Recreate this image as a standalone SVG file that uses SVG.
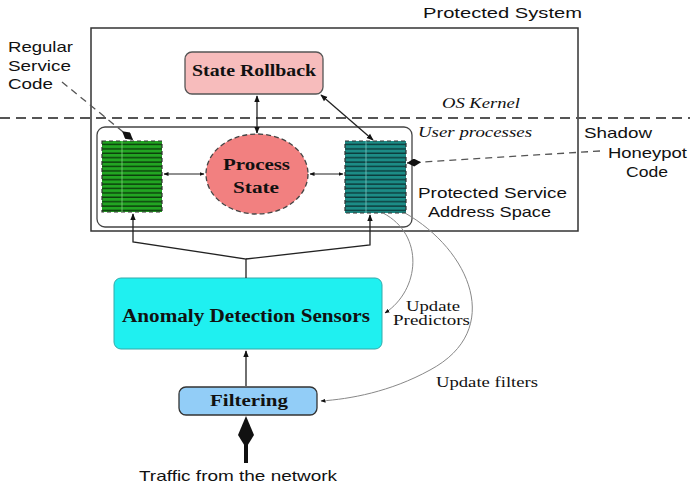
<svg xmlns="http://www.w3.org/2000/svg" width="690" height="486" viewBox="0 0 690 486">
<defs>
<style>
.sans{font-family:"Liberation Sans",Arial,sans-serif;fill:#111}
.serif{font-family:"Liberation Serif","Times New Roman",serif;fill:#111}
.bold{font-weight:bold}
.ital{font-style:italic}
.ln{stroke:#222;stroke-width:1.3;fill:none}
.thin{stroke:#888;stroke-width:1;fill:none}
.lead{stroke:#555;stroke-width:1.3;fill:none;stroke-dasharray:7 5}
</style>
<pattern id="pg" width="10" height="4.4" patternUnits="userSpaceOnUse">
<rect width="10" height="4.4" fill="#22a522"/>
<rect y="3" width="10" height="1.4" fill="#0b3d0b"/>
</pattern>
<pattern id="pt" width="10" height="4.4" patternUnits="userSpaceOnUse">
<rect width="10" height="4.4" fill="#1c8c86"/>
<rect y="3" width="10" height="1.4" fill="#0c3b3b"/>
</pattern>
<marker id="ah" viewBox="0 0 10 10" refX="9" refY="5" markerWidth="7" markerHeight="7" orient="auto-start-reverse" markerUnits="userSpaceOnUse">
<path d="M0,1 L10,5 L0,9 z" fill="#111"/>
</marker>
<marker id="ahs" viewBox="0 0 10 10" refX="9" refY="5" markerWidth="5" markerHeight="5" orient="auto-start-reverse" markerUnits="userSpaceOnUse">
<path d="M0,1 L10,5 L0,9 z" fill="#111"/>
</marker>
<marker id="dm" viewBox="0 0 14 8" refX="14" refY="4" markerWidth="14" markerHeight="8" orient="auto" markerUnits="userSpaceOnUse">
<path d="M0,4 L7,0 L14,4 L7,8 z" fill="#111"/>
</marker>
</defs>
<rect width="690" height="486" fill="#fff"/>

<g id="protected-system">
<rect x="91" y="28" width="487" height="203" fill="none" stroke="#333" stroke-width="1.5"/>
<text class="sans" x="423" y="18" font-size="15" textLength="159" lengthAdjust="spacingAndGlyphs">Protected System</text>
</g>

<g id="kernel-line">
<line x1="0" y1="118" x2="690" y2="118" stroke="#555" stroke-width="2" stroke-dasharray="10 6"/>
<text class="serif ital" x="442" y="108" font-size="15" textLength="78" lengthAdjust="spacingAndGlyphs">OS Kernel</text>
</g>

<g id="user-processes">
<rect x="97" y="127" width="315" height="100" rx="8" fill="none" stroke="#444" stroke-width="1.3"/>
<text class="serif ital" x="418" y="137" font-size="15" textLength="114" lengthAdjust="spacingAndGlyphs">User processes</text>
<text class="sans" x="418" y="198" font-size="15" textLength="149" lengthAdjust="spacingAndGlyphs">Protected Service</text>
<text class="sans" x="428" y="217" font-size="15" textLength="123" lengthAdjust="spacingAndGlyphs">Address Space</text>
</g>

<g id="state-rollback">
<rect x="185" y="52" width="138" height="42" rx="7" fill="#f7bcbc" stroke="#555" stroke-width="1.3"/>
<text class="serif bold" x="192" y="76" font-size="16" textLength="124" lengthAdjust="spacingAndGlyphs">State Rollback</text>
</g>

<g id="regular-service-code">
<rect x="102" y="141" width="60" height="71" fill="url(#pg)" stroke="#333" stroke-width="1.2" stroke-dasharray="4 3"/>
<line x1="122" y1="141" x2="122" y2="212" stroke="#7fd07f" stroke-width="0.8"/>
<text class="sans" x="8" y="52" font-size="15" textLength="65" lengthAdjust="spacingAndGlyphs">Regular</text>
<text class="sans" x="8" y="71" font-size="15" textLength="63" lengthAdjust="spacingAndGlyphs">Service</text>
<text class="sans" x="8" y="89" font-size="15" textLength="45" lengthAdjust="spacingAndGlyphs">Code</text>
</g>

<g id="process-state">
<ellipse cx="257" cy="174" rx="51" ry="40" fill="#f28080" stroke="#444" stroke-width="1.3" stroke-dasharray="5 3"/>
<text class="serif bold" x="223" y="170" font-size="17" textLength="67" lengthAdjust="spacingAndGlyphs">Process</text>
<text class="serif bold" x="233" y="193" font-size="17" textLength="46" lengthAdjust="spacingAndGlyphs">State</text>
</g>

<g id="shadow-honeypot-code">
<rect x="345" y="141" width="61" height="72" fill="url(#pt)" stroke="#333" stroke-width="1.2" stroke-dasharray="4 3"/>
<line x1="366" y1="141" x2="366" y2="213" stroke="#7fc7c2" stroke-width="0.8"/>
<text class="sans" x="584" y="138" font-size="15" textLength="68" lengthAdjust="spacingAndGlyphs">Shadow</text>
<text class="sans" x="608" y="158" font-size="15" textLength="79" lengthAdjust="spacingAndGlyphs">Honeypot</text>
<text class="sans" x="626" y="177" font-size="15" textLength="42" lengthAdjust="spacingAndGlyphs">Code</text>
</g>

<g id="anomaly-detection-sensors">
<rect x="114" y="278" width="268" height="71" rx="7" fill="#1ff0f0" stroke="#3aa" stroke-width="1"/>
<text class="serif bold" x="122" y="322" font-size="18" textLength="248" lengthAdjust="spacingAndGlyphs">Anomaly Detection Sensors</text>
</g>

<g id="filtering">
<rect x="179" y="387" width="138" height="28" rx="7" fill="#92cdf7" stroke="#333" stroke-width="1.3"/>
<text class="serif bold" x="210" y="406" font-size="17" textLength="78" lengthAdjust="spacingAndGlyphs">Filtering</text>
</g>

<g id="labels">
<text class="serif" x="406" y="311" font-size="14" textLength="54" lengthAdjust="spacingAndGlyphs">Update</text>
<text class="serif" x="393" y="325" font-size="14" textLength="77" lengthAdjust="spacingAndGlyphs">Predictors</text>
<text class="serif" x="436" y="387" font-size="15" textLength="102" lengthAdjust="spacingAndGlyphs">Update filters</text>
<text class="sans" x="139" y="481" font-size="15" textLength="198" lengthAdjust="spacingAndGlyphs">Traffic from the network</text>
</g>

<g id="connectors">
<line class="ln" x1="257" y1="96" x2="257" y2="133" marker-start="url(#ah)" marker-end="url(#ah)"/>
<line class="ln" x1="321" y1="95" x2="373" y2="140" marker-start="url(#ah)" marker-end="url(#ah)"/>
<line x1="164" y1="174" x2="204" y2="174" stroke="#222" stroke-width="1" marker-start="url(#ahs)" marker-end="url(#ahs)"/>
<line x1="310" y1="174" x2="343" y2="174" stroke="#222" stroke-width="1" marker-start="url(#ahs)" marker-end="url(#ahs)"/>
<path class="ln" d="M246,278 L246,259 L133,242 L133,214" marker-end="url(#ah)"/>
<path class="ln" d="M246,259 L370,245 L370,215" marker-end="url(#ah)"/>
<line class="ln" x1="246" y1="386" x2="246" y2="351" marker-end="url(#ah)"/>
<line x1="246" y1="463" x2="246" y2="444" stroke="#111" stroke-width="4"/>
<path d="M246,416 L254,435 L246,448 L238,435 z" fill="#111"/>
<path class="thin" d="M383,213 C425,235 420,290 385,313" marker-end="url(#ahs)"/>
<path class="thin" d="M405,213 C470,250 505,330 430,370 C390,392 350,399 321,401" marker-end="url(#ahs)"/>
<path class="lead" d="M62,82 L133,140" marker-end="url(#dm)"/>
<path class="lead" d="M600,151 L407,163" marker-end="url(#dm)"/>
</g>
</svg>
